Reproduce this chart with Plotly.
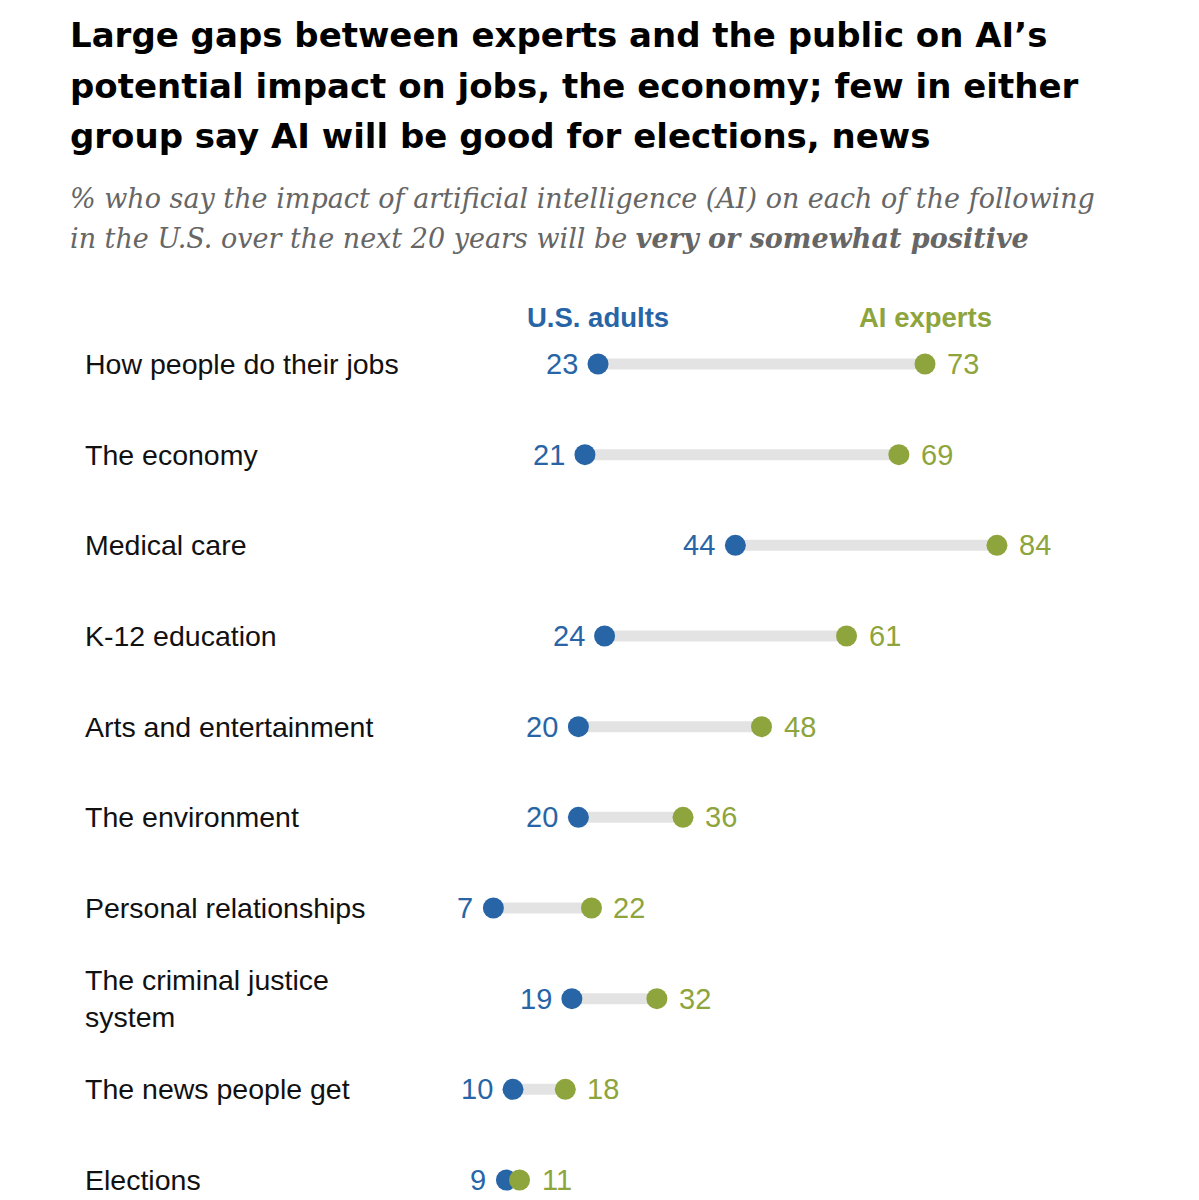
import plotly.graph_objects as go

categories = ["How people do their jobs", "The economy", "Medical care", "K-12 education",
              "Arts and entertainment", "The environment", "Personal relationships",
              "The criminal justice<br>system", "The news people get", "Elections"]
us_adults = [23, 21, 44, 24, 20, 20, 7, 19, 10, 9]
ai_experts = [73, 69, 84, 61, 48, 36, 22, 32, 18, 11]

title_lines = ["Large gaps between experts and the public on AI\u2019s",
               "potential impact on jobs, the economy; few in either",
               "group say AI will be good for elections, news"]
subtitle_lines = ["% who say the impact of artificial intelligence (AI) on each of the following",
                  "in the U.S. over the next 20 years will be <b>very or somewhat positive</b>"]

BLUE = "#2765a6"
GREEN = "#8ea43c"
GRAY = "#e3e3e3"
W, H = 1199, 1200
SANS = "Liberation Sans, Arial, sans-serif"

fig = go.Figure()

lx, ly = [], []
for c, a, e in zip(categories, us_adults, ai_experts):
    lx += [a, e, None]
    ly += [c, c, None]
fig.add_trace(go.Scatter(x=lx, y=ly, mode="lines", line=dict(color=GRAY, width=11),
                         hoverinfo="skip", showlegend=False))

fig.add_trace(go.Scatter(x=us_adults, y=categories, mode="markers",
                         marker=dict(color=BLUE, size=21), showlegend=False, name="U.S. adults"))
fig.add_trace(go.Scatter(x=ai_experts, y=categories, mode="markers",
                         marker=dict(color=GREEN, size=21), showlegend=False, name="AI experts"))

ann = []
for c, a, e in zip(categories, us_adults, ai_experts):
    ann.append(dict(x=83 / W, xref="paper", y=c, yref="y", xanchor="left", yanchor="middle",
                    text=c, showarrow=False, align="left",
                    font=dict(family=SANS, size=28.5, color="#111111")))
    ann.append(dict(x=a, xref="x", y=c, yref="y", xanchor="right", yanchor="middle",
                    xshift=-18, text=str(a), showarrow=False,
                    font=dict(family=SANS, size=29, color=BLUE)))
    ann.append(dict(x=e, xref="x", y=c, yref="y", xanchor="left", yanchor="middle",
                    xshift=20, text=str(e), showarrow=False,
                    font=dict(family=SANS, size=29, color=GREEN)))

ann.append(dict(x=us_adults[0], xref="x", y=1 - 317 / H, yref="paper", xanchor="center",
                yanchor="middle", text="<b>U.S. adults</b>", showarrow=False,
                font=dict(family=SANS, size=27.5, color=BLUE)))
ann.append(dict(x=ai_experts[0], xref="x", y=1 - 317 / H, yref="paper", xanchor="center",
                yanchor="middle", text="<b>AI experts</b>", showarrow=False,
                font=dict(family=SANS, size=27.5, color=GREEN)))

for i, t in enumerate(title_lines):
    ann.append(dict(x=68 / W, xref="paper", y=1 - (35 + 50.5 * i) / H, yref="paper",
                    xanchor="left", yanchor="middle", text="<b>" + t + "</b>", showarrow=False,
                    font=dict(family="DejaVu Sans, sans-serif", size=34, color="#000000")))
for i, t in enumerate(subtitle_lines):
    ann.append(dict(x=68 / W, xref="paper", y=1 - (198 + 40 * i) / H, yref="paper",
                    xanchor="left", yanchor="middle", text="<i>" + t + "</i>", showarrow=False,
                    font=dict(family="DejaVu Serif, Georgia, serif", size=27, color="#666666")))

px0 = 447.6
ppu = 6.54
row0, rowstep = 364, 90.67
fig.update_layout(
    width=W, height=H, margin=dict(l=0, r=0, t=0, b=0),
    paper_bgcolor="white", plot_bgcolor="white",
    xaxis=dict(range=[-px0 / ppu, (W - px0) / ppu], visible=False, fixedrange=True),
    yaxis=dict(type="category", categoryorder="array", categoryarray=categories,
               range=[(H - row0) / rowstep, -row0 / rowstep], visible=False),
    annotations=ann,
)

fig.write_html("out.html", config={"displayModeBar": False},
               post_script="document.body.style.margin='0';document.body.style.overflow='hidden';")
